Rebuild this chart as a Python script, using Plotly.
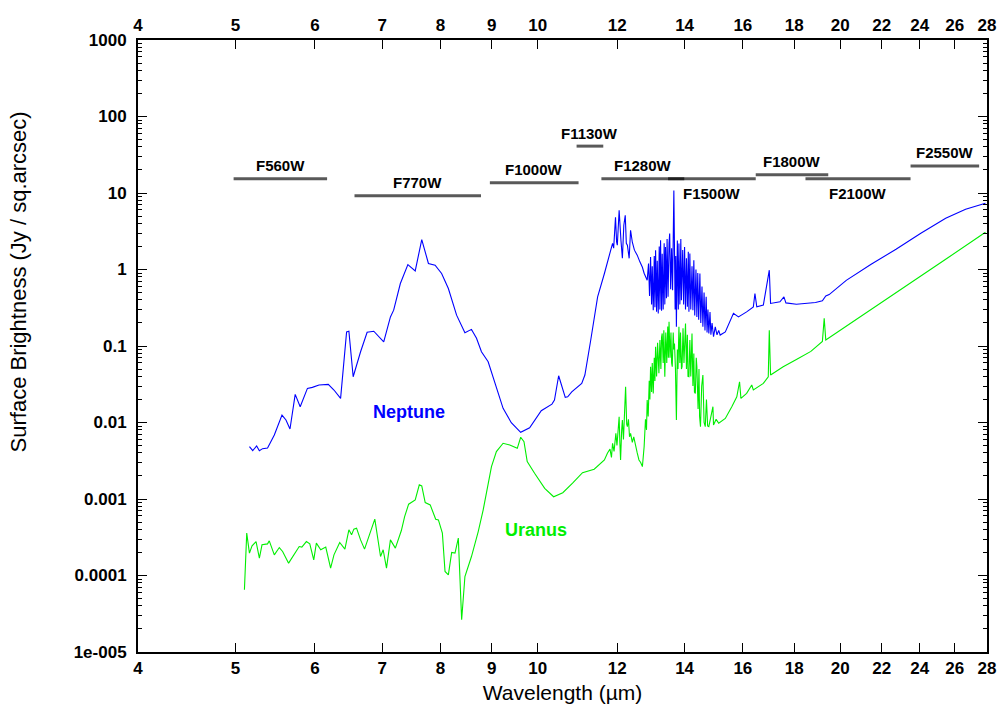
import math
import plotly.graph_objects as go

# ---------------- data ----------------
neptune_wl = [5.164, 5.203, 5.250, 5.283, 5.322, 5.383, 5.467, 5.564, 5.615, 5.667,
              5.735, 5.801, 5.898, 5.965, 6.057, 6.187, 6.268, 6.364, 6.452, 6.486,
              6.550, 6.662, 6.763, 6.867, 7.025, 7.134, 7.187, 7.298, 7.425, 7.551,
              7.665, 7.783, 7.903, 8.022, 8.147, 8.302, 8.462, 8.590, 8.690, 8.789,
              8.925, 9.062, 9.236, 9.411, 9.616, 9.815, 10.08, 10.33, 10.39, 10.49,
              10.57, 10.65, 10.71, 10.81, 11.06, 11.14, 11.29, 11.47, 11.65, 11.76,
              11.87, 11.90, 11.95, 11.98, 12.00, 12.05, 12.08, 12.10, 12.14, 12.18,
              12.22, 12.25, 12.28, 12.33, 12.37, 12.42, 12.48, 12.56, 12.64, 12.71,
              12.76, 12.85, 12.89, 12.92, 12.95, 12.98, 13.00, 13.03, 13.06, 13.08,
              13.10, 13.13, 13.15, 13.18, 13.21, 13.23, 13.25, 13.28, 13.30, 13.33,
              13.36, 13.38, 13.40, 13.43, 13.45, 13.48, 13.51, 13.53, 13.56, 13.59,
              13.62, 13.66, 13.70, 13.72, 13.74, 13.77, 13.80, 13.82, 13.85, 13.88,
              13.90, 13.94, 13.97, 14.00, 14.03, 14.06, 14.09, 14.12, 14.14, 14.17,
              14.20, 14.24, 14.27, 14.30, 14.33, 14.37, 14.40, 14.43, 14.46, 14.50,
              14.53, 14.57, 14.60, 14.64, 14.67, 14.71, 14.74, 14.77, 14.80, 14.84,
              14.87, 14.91, 14.96, 15.02, 15.08, 15.14, 15.19, 15.37, 15.66, 15.84,
              16.14, 16.39, 16.45, 16.52, 16.77, 17.00, 17.05, 17.42, 17.58, 17.66,
              18.09, 18.50, 18.90, 19.20, 19.35, 19.50, 20.28, 21.47, 22.73, 24.06,
              25.47, 26.66, 27.90]
neptune_sb = [0.00483, 0.00428, 0.00493, 0.00428, 0.00455, 0.00465, 0.00687, 0.0125, 0.0108, 0.00822,
              0.0233, 0.0161, 0.0279, 0.0288, 0.0309, 0.0315, 0.0266, 0.0207, 0.153, 0.156,
              0.0396, 0.084, 0.151, 0.156, 0.1135, 0.240, 0.294, 0.656, 1.16, 0.959,
              2.46, 1.20, 1.14, 0.887, 0.565, 0.253, 0.149, 0.165, 0.126, 0.084,
              0.0622, 0.0325, 0.0153, 0.00993, 0.00745, 0.00855, 0.01426, 0.0174, 0.0197, 0.0408,
              0.0293, 0.0213, 0.0217, 0.0252, 0.0325, 0.0417, 0.119, 0.439, 0.887, 1.39,
              2.20, 1.9, 4.82, 2.3, 2.08, 5.94, 2.6, 2.41, 1.40, 3.79,
              5.11, 2.2, 2.08, 1.40, 3.26, 2.27, 1.79, 1.54, 1.25, 1.07,
              0.895, 0.725, 1.2, 0.45, 1.46, 0.35, 1.1, 0.294, 1.5, 0.32,
              1.79, 0.28, 1.3, 0.267, 2.0, 0.3, 2.41, 0.29, 1.6, 0.3,
              2.2, 0.35, 1.97, 0.42, 2.5, 0.439, 2.2, 2.95, 0.55, 1.9,
              0.537, 10.8, 0.3, 1.5, 0.178, 2.4, 0.3, 2.18, 0.35, 2.5,
              0.397, 1.8, 0.35, 1.97, 0.3, 1.4, 0.325, 1.7, 0.28, 1.62,
              0.3, 1.1, 0.294, 1.32, 0.25, 1.0, 0.24, 0.9, 0.22, 0.887,
              0.2, 0.6, 0.178, 0.5, 0.16, 0.439, 0.15, 0.3, 0.146, 0.279,
              0.14, 0.2, 0.132, 0.178, 0.14, 0.16, 0.139, 0.153, 0.267, 0.240,
              0.279, 0.325, 0.486, 0.325, 0.342, 0.979, 0.360, 0.378, 0.439, 0.366,
              0.352, 0.36, 0.37, 0.39, 0.45, 0.47, 0.72, 1.17, 1.84, 2.98,
              4.67, 6.12, 7.34]

uranus_wl = [5.105, 5.132, 5.164, 5.195, 5.243, 5.283, 5.315, 5.383, 5.404, 5.467,
             5.530, 5.572, 5.649, 5.735, 5.788, 5.823, 5.884, 5.930, 5.984, 6.020,
             6.081, 6.151, 6.220, 6.268, 6.351, 6.427, 6.486, 6.526, 6.560, 6.601,
             6.662, 6.723, 6.763, 6.883, 6.974, 7.016, 7.070, 7.134, 7.215, 7.315,
             7.370, 7.438, 7.551, 7.622, 7.665, 7.726, 7.815, 7.914, 7.963, 8.036,
             8.085, 8.147, 8.209, 8.272, 8.335, 8.399, 8.462, 8.590, 8.724, 8.824,
             8.993, 9.095, 9.236, 9.378, 9.541, 9.616, 9.689, 9.761, 9.927, 10.16,
             10.37, 10.59, 10.83, 11.08, 11.38, 11.65,
             11.73, 11.80, 11.84, 11.87, 11.91, 11.96, 11.99, 12.02, 12.05, 12.07,
             12.09, 12.12, 12.14, 12.17, 12.20, 12.23, 12.26, 12.28, 12.31, 12.34,
             12.37, 12.42, 12.46, 12.51, 12.56, 12.61, 12.66, 12.71, 12.76, 12.80,
             12.83, 12.85, 12.88, 12.91, 12.93, 12.95, 12.98, 13.00, 13.03, 13.06,
             13.08, 13.10, 13.13, 13.16, 13.18, 13.20, 13.23, 13.26, 13.28, 13.30,
             13.33, 13.35, 13.38, 13.41, 13.44, 13.47, 13.49, 13.51, 13.54, 13.57,
             13.59, 13.61, 13.64, 13.66, 13.68, 13.71, 13.74, 13.77, 13.79, 13.82,
             13.85, 13.87, 13.90, 13.92, 13.95, 13.98, 14.03, 14.06, 14.09, 14.11,
             14.14, 14.17, 14.20, 14.24, 14.27, 14.30, 14.32, 14.35, 14.38, 14.40,
             14.44, 14.47, 14.49, 14.52, 14.56, 14.60, 14.64, 14.68, 14.72, 14.76,
             14.80, 14.87, 14.94, 14.96, 15.05, 15.14,
             15.37, 15.60, 15.78, 15.88, 15.93, 16.14,
             16.33, 16.39, 16.77, 16.96, 17.00, 17.05, 17.55, 18.09, 18.70, 19.20,
             19.28, 19.35, 20.28, 22.73, 25.47, 27.90]
uranus_sb = [6.5e-5, 3.58e-4, 1.96e-4, 2.44e-4, 2.78e-4, 1.69e-4, 2.52e-4, 2.59e-4, 2.84e-4, 1.86e-4,
             2.32e-4, 2.06e-4, 1.45e-4, 2.0e-4, 2.39e-4, 2.35e-4, 2.78e-4, 2.59e-4, 1.60e-4, 2.65e-4,
             2.17e-4, 2.35e-4, 1.25e-4, 1.86e-4, 2.70e-4, 2.21e-4, 3.95e-4, 3.40e-4, 4.04e-4, 4.16e-4,
             2.92e-4, 2.21e-4, 2.78e-4, 5.45e-4, 1.77e-4, 2.17e-4, 1.25e-4, 2.92e-4, 2.28e-4, 3.87e-4,
             5.89e-4, 8.55e-4, 9.73e-4, 1.53e-3, 1.48e-3, 8.97e-4, 8.37e-4, 5.45e-4, 5.33e-4, 3.58e-4,
             1.13e-4, 1.02e-4, 2.0e-4, 1.96e-4, 3.08e-4, 2.64e-5, 9.7e-5, 1.77e-4, 3.75e-4, 7.21e-4,
             2.65e-3, 4.16e-3, 5.35e-3, 5.08e-3, 4.60e-3, 6.41e-3, 5.61e-3, 3.08e-3, 2.17e-3, 1.38e-3,
             1.07e-3, 1.21e-3, 1.61e-3, 2.21e-3, 2.45e-3, 3.24e-3,
             3.96e-3, 4.5e-3, 3.5e-3, 5.35e-3, 4.2e-3, 7.22e-3, 5.0e-3, 9.0e-3, 0.0119, 5.5e-3,
             3.24e-3, 8.0e-3, 0.0108, 6.0e-3, 0.012, 0.0293, 9.5e-3, 8.81e-3, 0.011, 6.5e-3,
             7.22e-3, 5.5e-3, 6.5e-3, 4.83e-3, 4.0e-3, 3.24e-3, 3.0e-3, 2.65e-3, 4.83e-3, 0.011,
             8.0e-3, 0.0197, 0.012, 0.035, 0.02, 0.0535, 0.025, 0.06, 0.0240, 0.07,
             0.035, 0.0977, 0.04, 0.11, 0.05, 0.0439, 0.12, 0.05, 0.13, 0.146,
             0.06, 0.16, 0.0396, 0.15, 0.06, 0.18, 0.07, 0.207, 0.07, 0.15,
             0.06, 0.0535, 0.15, 0.09, 0.108, 0.05, 0.0108, 0.09, 0.05, 0.178,
             0.06, 0.15, 0.05, 0.0535, 0.17, 0.06, 0.197, 0.05, 0.14, 0.04,
             0.0396, 0.12, 0.04, 0.146, 0.03, 0.08, 0.025, 0.0240, 0.07, 0.0535,
             0.015, 0.05, 0.012, 8.81e-3, 0.03, 0.0417, 0.01, 8.81e-3, 0.02, 9e-3,
             8.81e-3, 0.012, 0.0161, 9.27e-3, 0.011, 9.77e-3,
             0.0113, 0.0161, 0.0217, 0.0341, 0.0207, 0.0240,
             0.0309, 0.0266, 0.0325, 0.0396, 0.161, 0.0417, 0.0535, 0.0668, 0.085, 0.115,
             0.23, 0.12, 0.181, 0.494, 1.36, 3.07]

filter_names = ["F560W", "F770W", "F1000W", "F1130W", "F1280W", "F1500W", "F1800W", "F2100W", "F2550W"]
filter_start = [4.98, 6.57, 8.96, 10.93, 11.57, 13.48, 16.48, 18.47, 23.5]
filter_end = [6.17, 8.78, 10.98, 11.62, 13.99, 16.48, 19.46, 23.5, 27.5]
filter_level = [15.3, 9.2, 13.6, 41.0, 15.3, 15.3, 17.3, 15.3, 22.6]
filter_label_side = ["above", "above", "above", "above", "above", "below", "above", "below", "above"]

x_ticks = [4, 5, 6, 7, 8, 9, 10, 12, 14, 16, 18, 20, 22, 24, 26, 28]
y_ticks = [1e-5, 1e-4, 1e-3, 1e-2, 1e-1, 1, 10, 100, 1000]
y_tick_text = ["1e-005", "0.0001", "0.001", "0.01", "0.1", "1", "10", "100", "1000"]

planet_names = ["Neptune", "Uranus"]
planet_label_wl = [7.44, 9.95]
planet_label_sb = [0.0137, 3.95e-4]
planet_colors = ["#0000ff", "#00ee00"]

# ---------------- figure ----------------
FONT = "Liberation Sans, Arial, sans-serif"
fig = go.Figure()

fig.add_trace(go.Scatter(x=neptune_wl, y=neptune_sb, mode="lines",
                         line=dict(color=planet_colors[0], width=1.1),
                         showlegend=False, hoverinfo="skip"))
fig.add_trace(go.Scatter(x=uranus_wl, y=uranus_sb, mode="lines",
                         line=dict(color=planet_colors[1], width=1.1),
                         showlegend=False, hoverinfo="skip"))

for name, s, e, lv, side in zip(filter_names, filter_start, filter_end, filter_level, filter_label_side):
    fig.add_trace(go.Scatter(x=[s, e], y=[lv, lv], mode="lines",
                             line=dict(color="rgba(0,0,0,0.65)", width=3),
                             showlegend=False, hoverinfo="skip"))
    xc = (math.log10(s) + math.log10(e)) / 2
    fig.add_annotation(x=xc, y=math.log10(lv), xref="x", yref="y", text=name,
                       showarrow=False, yshift=13 if side == "above" else -15,
                       font=dict(family=FONT, size=15, color="black", weight="bold"))

for name, wl, sb, col in zip(planet_names, planet_label_wl, planet_label_sb, planet_colors):
    fig.add_annotation(x=math.log10(wl), y=math.log10(sb), xref="x", yref="y", text=name,
                       showarrow=False, font=dict(family=FONT, size=18, color=col, weight="bold"))

# y-axis title placed as a rotated annotation
fig.add_annotation(x=-0.1405, y=0.605, xref="paper", yref="paper",
                   text="Surface Brightness (Jy / sq.arcsec)", textangle=-90,
                   showarrow=False, xanchor="center", yanchor="middle",
                   font=dict(family=FONT, size=22, color="black"))

# invisible helper trace so the mirrored (top / right) axes are drawn
fig.add_trace(go.Scatter(x=[x_ticks[0], x_ticks[-1]], y=[y_ticks[0], y_ticks[-1]],
                         xaxis="x2", yaxis="y2", mode="markers",
                         marker=dict(opacity=0), showlegend=False, hoverinfo="skip"))

xr = [math.log10(x_ticks[0]), math.log10(x_ticks[-1])]
yr = [math.log10(y_ticks[0]), math.log10(y_ticks[-1])]
minor_y = [m * 10 ** e for e in range(-5, 3) for m in range(2, 10)]
tickfont = dict(family=FONT, size=17, color="black", weight="bold")

common_x = dict(type="log", range=xr, tickmode="array", tickvals=x_ticks,
                ticktext=[str(t) for t in x_ticks], ticks="inside", ticklen=9,
                tickwidth=1.3, tickcolor="black", showline=True, linecolor="black",
                linewidth=2, showgrid=False, zeroline=False, tickfont=tickfont)
common_y = dict(type="log", range=yr, tickmode="array", tickvals=y_ticks,
                ticktext=y_tick_text, ticks="inside", ticklen=9, tickwidth=1.3,
                tickcolor="black", showline=True, linecolor="black", linewidth=2,
                showgrid=False, zeroline=False, tickfont=tickfont,
                minor=dict(tickmode="array", tickvals=minor_y, ticks="inside",
                           ticklen=4, tickcolor="black", tickwidth=1, showgrid=False))

fig.update_layout(
    width=1008, height=715,
    margin=dict(l=138, r=16, t=40, b=63),
    paper_bgcolor="white", plot_bgcolor="white",
    xaxis=dict(**common_x, title=dict(text="Wavelength (µm)", standoff=8,
                                      font=dict(family=FONT, size=21, color="black"))),
    xaxis2=dict(**common_x, overlaying="x", side="top", anchor="y"),
    yaxis=dict(**common_y, ticklabelstandoff=6),
    yaxis2=dict(**common_y, overlaying="y", side="right", anchor="x", showticklabels=False),
)

fig.write_html("out.html")
